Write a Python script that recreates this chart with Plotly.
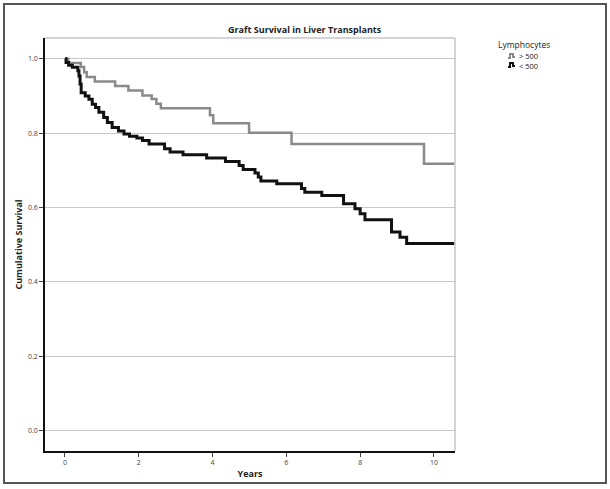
import plotly.graph_objects as go

# Kaplan-Meier step data (years, cumulative survival)
gray_label = "> 500"
gray_t = [0, 0.09, 0.43, 0.52, 0.59, 0.81, 1.36, 1.72, 2.10, 2.35, 2.48, 2.60,
          3.93, 4.02, 4.99, 6.14, 9.73, 10.55]
gray_s = [1.0, 0.989, 0.978, 0.964, 0.951, 0.939, 0.927, 0.915, 0.901, 0.892,
          0.879, 0.867, 0.848, 0.827, 0.801, 0.771, 0.718, 0.718]

black_label = "< 500"
black_t = [0, 0.03, 0.1, 0.2, 0.35, 0.38, 0.41, 0.44, 0.55, 0.65, 0.74, 0.83,
           0.92, 1.05, 1.15, 1.28, 1.45, 1.6, 1.75, 1.95, 2.1, 2.28, 2.7, 2.85,
           3.2, 3.84, 4.35, 4.72, 4.83, 5.15, 5.24, 5.31, 5.74, 6.41, 6.5, 6.96,
           7.55, 7.86, 8.0, 8.13, 8.85, 9.08, 9.26, 10.55]
black_s = [1.0, 0.99, 0.983, 0.977, 0.968, 0.954, 0.932, 0.909, 0.90, 0.891,
           0.878, 0.869, 0.856, 0.842, 0.829, 0.815, 0.806, 0.798, 0.792, 0.787,
           0.78, 0.771, 0.758, 0.749, 0.742, 0.733, 0.724, 0.713, 0.702, 0.693,
           0.682, 0.671, 0.664, 0.651, 0.641, 0.632, 0.61, 0.597, 0.583, 0.567,
           0.534, 0.52, 0.503, 0.503]

x_ticks = [0, 2, 4, 6, 8, 10]
y_ticks = [0.0, 0.2, 0.4, 0.6, 0.8, 1.0]
y_tick_text = ["0.0", "0.2", "0.4", "0.6", "0.8", "1.0"]

W, H = 610, 489
L, R, T, B = 45, 455, 38, 451
GRAY = "#8a8a8a"
FONT = "Open Sans"

fig = go.Figure()
fig.add_trace(go.Scatter(x=gray_t, y=gray_s, mode="lines", line_shape="hv",
                         line=dict(color=GRAY, width=2.5), name=gray_label,
                         showlegend=False))
fig.add_trace(go.Scatter(x=black_t, y=black_s, mode="lines", line_shape="hv",
                         line=dict(color="#111111", width=3), name=black_label,
                         showlegend=False))


def px(x):
    return (x - L) / (R - L)


def py(y):
    return (B - y) / (B - T)


shapes = []
# outer frame
shapes.append(dict(type="rect", xref="paper", yref="paper",
                   x0=px(4), x1=px(606), y0=py(483), y1=py(4),
                   line=dict(color="#555555", width=2)))
# top and right plot border (gray)
shapes.append(dict(type="line", xref="paper", yref="paper", x0=0, x1=1, y0=1, y1=1,
                   line=dict(color="#aaaaaa", width=1)))
shapes.append(dict(type="line", xref="paper", yref="paper", x0=1, x1=1, y0=0, y1=1,
                   line=dict(color="#aaaaaa", width=1)))


def step_icon(x0, y0, color):
    pts = [(x0, y0 + 5), (x0 + 2, y0 + 5), (x0 + 2, y0 + 1), (x0 + 5, y0 + 1),
           (x0 + 5, y0 + 4), (x0 + 7, y0 + 4)]
    path = "M " + " L ".join(f"{px(a):.5f},{py(b):.5f}" for a, b in pts)
    return dict(type="path", xref="paper", yref="paper", path=path,
                line=dict(color=color, width=2))


shapes.append(step_icon(508, 53, GRAY))
shapes.append(step_icon(508, 62, "#111111"))

annotations = [
    dict(text="<b>Graft Survival in Liver Transplants</b>", xref="paper", yref="paper",
         x=px(305), y=py(29), showarrow=False, xanchor="center", yanchor="middle",
         font=dict(family=FONT, size=9, color="#222222")),
    dict(text="Lymphocytes", xref="paper", yref="paper", borderpad=0,
         x=px(524), y=py(44), showarrow=False, xanchor="center", yanchor="middle",
         font=dict(family=FONT, size=8.5, color="#222222")),
    dict(text=gray_label, xref="paper", yref="paper", borderpad=0,
         x=px(518), y=py(56), showarrow=False, xanchor="left", yanchor="middle",
         font=dict(family=FONT, size=7.5, color="#222222")),
    dict(text=black_label, xref="paper", yref="paper", borderpad=0,
         x=px(518), y=py(65.5), showarrow=False, xanchor="left", yanchor="middle",
         font=dict(family=FONT, size=7.5, color="#222222")),
]

fig.update_layout(
    width=W, height=H,
    margin=dict(l=L, r=W - R, t=T, b=H - B, pad=0),
    paper_bgcolor="white", plot_bgcolor="white",
    shapes=shapes, annotations=annotations,
    showlegend=False,
    font=dict(family=FONT, size=7, color="#444444"),
    xaxis=dict(range=[-0.54, 10.57], tickvals=x_ticks, showgrid=False, zeroline=False,
               showline=True, linecolor="#111111", linewidth=1.5,
               ticks="outside", ticklen=4, tickcolor="#444444",
               tickfont=dict(size=7, color="#444444"),
               title=dict(text="<b>Years</b>", standoff=5,
                          font=dict(family=FONT, size=9, color="#222222"))),
    yaxis=dict(range=[-0.055, 1.056], tickvals=y_ticks, ticktext=y_tick_text,
               showgrid=True, gridcolor="#c8c8c8", gridwidth=1, zeroline=False,
               showline=True, linecolor="#111111", linewidth=1.5,
               ticks="outside", ticklen=4, tickcolor="#444444",
               tickfont=dict(size=7, color="#444444"),
               title=dict(text="<b>Cumulative Survival</b>", standoff=4,
                          font=dict(family=FONT, size=9, color="#222222"))),
)

fig.write_html("out.html", config={"displayModeBar": False},
               post_script="document.body.style.margin='0';document.body.style.overflow='hidden';")
